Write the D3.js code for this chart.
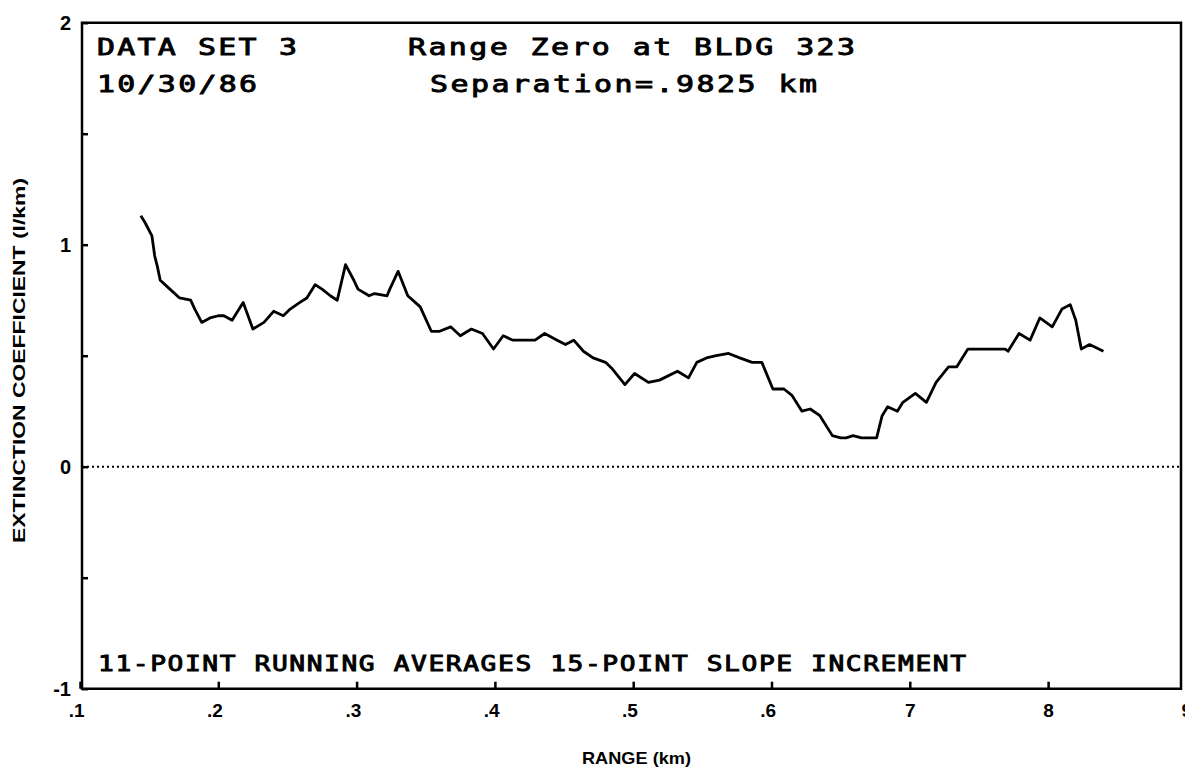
<!DOCTYPE html>
<html>
<head>
<meta charset="utf-8">
<script src="https://cdn.jsdelivr.net/npm/d3@7/dist/d3.min.js"></script>
<style>
  body { margin: 0; background: #fff; }
  svg { display: block; }
  .plotter { font-family: "DejaVu Sans Mono", monospace; fill: #000; stroke: #000; stroke-width: 0.9px; }
  .lbl { font-family: "Liberation Sans", Arial, sans-serif; font-weight: bold; fill: #000; }
</style>
</head>
<body>
<div id="chart"></div>
<script>
// range along path (km) and 11-point running average of extinction
var rangeKm = [1.44,1.47,1.52,1.54,1.56,1.58,1.65,1.72,1.80,1.83,
  1.88,1.94,2.00,2.04,2.10,2.13,2.18,2.25,2.33,2.40,
  2.47,2.52,2.59,2.64,2.70,2.75,2.81,2.86,2.89,2.92,
  2.98,3.01,3.09,3.13,3.22,3.24,3.30,3.37,3.46,3.54,
  3.60,3.68,3.75,3.83,3.91,3.99,4.06,4.13,4.29,4.36,
  4.45,4.51,4.57,4.64,4.71,4.80,4.85,4.94,5.01,5.11,
  5.19,5.32,5.40,5.46,5.53,5.60,5.69,5.77,5.86,5.93,
  6.01,6.09,6.15,6.22,6.28,6.35,6.44,6.50,6.54,6.59,
  6.65,6.76,6.80,6.84,6.91,6.95,7.04,7.12,7.19,7.28,
  7.34,7.42,7.69,7.71,7.79,7.87,7.94,8.03,8.10,8.16,
  8.20,8.24,8.30,8.40];
var extinction = [1.13,1.10,1.04,0.95,0.90,0.84,0.80,0.76,0.75,0.71,
  0.65,0.67,0.68,0.68,0.66,0.69,0.74,0.62,0.65,0.70,
  0.68,0.71,0.74,0.76,0.82,0.80,0.77,0.75,0.83,0.91,
  0.84,0.80,0.77,0.78,0.77,0.80,0.88,0.77,0.72,0.61,
  0.61,0.63,0.59,0.62,0.60,0.53,0.59,0.57,0.57,0.60,
  0.57,0.55,0.57,0.52,0.49,0.47,0.44,0.37,0.42,0.38,
  0.39,0.43,0.40,0.47,0.49,0.50,0.51,0.49,0.47,0.47,
  0.35,0.35,0.32,0.25,0.26,0.23,0.14,0.13,0.13,0.14,
  0.13,0.13,0.23,0.27,0.25,0.29,0.33,0.29,0.38,0.45,
  0.45,0.53,0.53,0.52,0.60,0.57,0.67,0.63,0.71,0.73,
  0.66,0.53,0.55,0.52];

var xTicks = [1,2,3,4,5,6,7,8,9];
var xTickLabels = ['.1','.2','.3','.4','.5','.6','7','8','9'];
var yTicks = [-1,-0.5,0,0.5,1,1.5,2];
var yTickLabels = {'-1':'-1', '0':'0', '1':'1', '2':'2'};

var width = 1185, height = 777;

var svg = d3.select('#chart').append('svg')
  .attr('width', width)
  .attr('height', height);

var x = d3.scaleLinear().domain([1, 9]).range([80, 1186.4]);
var y = d3.scaleLinear().domain([-1, 2]).range([688.7, 22.7]);

var left = x(1) + 2, right = 1181;

// zero reference line (dotted)
svg.append('line')
  .attr('x1', left).attr('x2', right)
  .attr('y1', y(0)).attr('y2', y(0))
  .attr('stroke', '#000')
  .attr('stroke-width', 2)
  .attr('stroke-dasharray', '2,3');

// frame
svg.append('path')
  .attr('d', 'M' + left + ',' + y(-1) + 'V' + y(2) + 'H' + right + 'V' + y(-1) + 'Z')
  .attr('fill', 'none')
  .attr('stroke', '#000')
  .attr('stroke-width', 2.5);

// x axis
var xAxis = d3.axisBottom(x)
  .tickValues(xTicks)
  .tickFormat(function (d, i) { return xTickLabels[i]; })
  .tickSizeInner(-7)
  .tickSizeOuter(0)
  .tickPadding(15);
var gx = svg.append('g')
  .attr('transform', 'translate(0,' + y(-1) + ')')
  .call(xAxis);
gx.select('.domain').remove();
gx.selectAll('line').attr('stroke-width', 2.5);
gx.selectAll('text')
  .attr('class', 'lbl')
  .style('font-size', '19px')
  .attr('dx', function (d, i) { return xTickLabels[i].charAt(0) === '.' ? '-0.2em' : 0; });

// y axis
var yAxis = d3.axisLeft(y)
  .tickValues(yTicks)
  .tickFormat(function (d) { return yTickLabels[String(d)] || ''; })
  .tickSizeInner(-6)
  .tickSizeOuter(0)
  .tickPadding(11);
var gy = svg.append('g')
  .attr('transform', 'translate(' + left + ',0)')
  .call(yAxis);
gy.select('.domain').remove();
gy.selectAll('line').attr('stroke-width', 2.5);
gy.selectAll('text')
  .attr('class', 'lbl')
  .style('font-size', '20px');

// data curve
var line = d3.line()
  .x(function (d) { return x(d[0]); })
  .y(function (d) { return y(d[1]); });

svg.append('path')
  .datum(d3.zip(rangeKm, extinction))
  .attr('d', line)
  .attr('fill', 'none')
  .attr('stroke', '#000')
  .attr('stroke-width', 2.8)
  .attr('stroke-linejoin', 'round');

// plotter annotations, glyphs widened to look like the pen plotter font
function note(txt, tx, ty, len, size, sx) {
  svg.append('text')
    .attr('class', 'plotter')
    .attr('transform', 'translate(' + tx + ',' + ty + ') scale(' + sx + ',1)')
    .attr('textLength', len / sx)
    .attr('lengthAdjust', 'spacing')
    .style('font-size', size + 'px')
    .text(txt);
}
note('DATA SET 3', 97, 55, 200, 23, 1.3);
note('10/30/86', 97, 92, 160, 23, 1.3);
note('Range Zero at BLDG 323', 408, 55, 447, 23, 1.3);
note('Separation=.9825 km', 430, 92, 387, 23, 1.3);
note('11-POINT RUNNING AVERAGES 15-POINT SLOPE INCREMENT', 98, 671, 868, 21, 1.25);

// axis titles
svg.append('text')
  .attr('class', 'lbl')
  .attr('x', 582).attr('y', 764)
  .attr('textLength', 109)
  .attr('lengthAdjust', 'spacingAndGlyphs')
  .style('font-size', '17px')
  .text('RANGE (km)');

svg.append('text')
  .attr('class', 'lbl')
  .attr('transform', 'translate(25,543) rotate(-90)')
  .attr('textLength', 365)
  .attr('lengthAdjust', 'spacingAndGlyphs')
  .style('font-size', '17px')
  .text('EXTINCTION COEFFICIENT (l/km)');
</script>
</body>
</html>
